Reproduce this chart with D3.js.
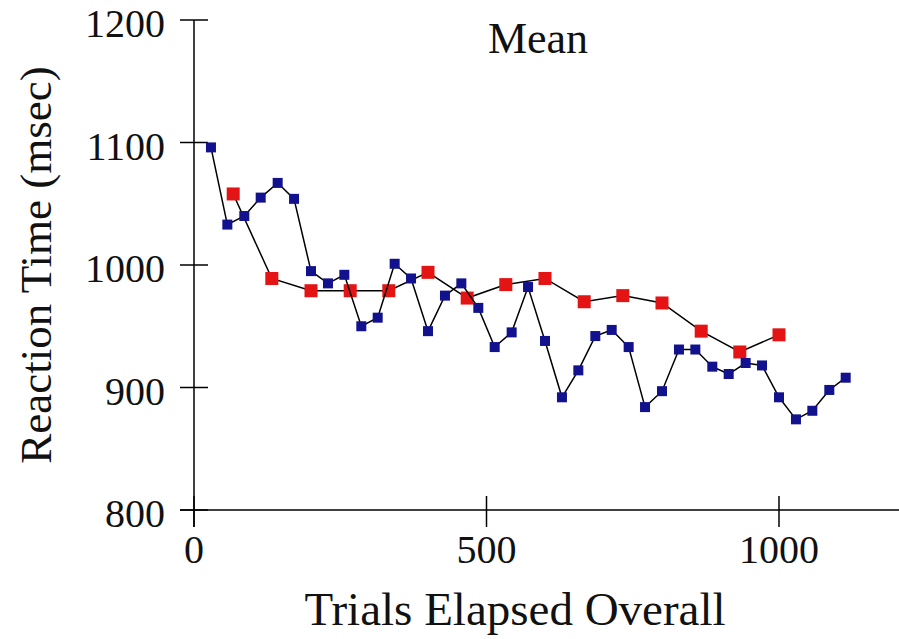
<!DOCTYPE html>
<html>
<head>
<meta charset="utf-8">
<script src="https://cdn.jsdelivr.net/npm/d3@7"></script>
<style>
  body { margin: 0; background: #fff; }
  svg { display: block; }
  text { font-family: "Liberation Serif", "DejaVu Serif", serif; fill: #111; }
</style>
</head>
<body>
<svg id="chart" width="899" height="639"></svg>
<script>
// Blue series (small bins)
const blueTrials = [29, 57, 86, 114, 143, 171, 200, 229, 257, 286, 314, 343, 371, 400, 429,
    457, 486, 514, 543, 571, 600, 629, 657, 686, 714, 743, 771, 800, 829, 857,
    886, 914, 943, 971, 1000, 1029, 1057, 1086, 1114];
const blueRT = [1096, 1033, 1040, 1055, 1067, 1054, 995, 985, 992, 950, 957, 1001, 989, 946, 975,
    985, 965, 933, 945, 982, 938, 892, 914, 942, 947, 933, 884, 897, 931, 931,
    917, 911, 920, 918, 892, 874, 881, 898, 908];

// Red series (large bins)
const redTrials = [67, 133, 200, 267, 333, 400, 467, 533, 600, 667, 733, 800, 867, 933, 1000];
const redRT = [1058, 989, 979, 979, 979, 994, 973, 984, 989, 970, 975, 969, 946, 929, 943];

const xTicks = [0, 500, 1000];
const yTicks = [800, 900, 1000, 1100, 1200];

const svg = d3.select("#chart");

const x = d3.scaleLinear().domain([0, 1000]).range([194, 779]);
const y = d3.scaleLinear().domain([800, 1200]).range([510, 20]);

// axes lines
svg.append("line")
    .attr("x1", x(0)).attr("x2", x(0))
    .attr("y1", y(1200)).attr("y2", y(800) + 17)
    .attr("stroke", "#000").attr("stroke-width", 1.5);
svg.append("line")
    .attr("x1", x(0) - 14).attr("x2", 899)
    .attr("y1", y(800)).attr("y2", y(800))
    .attr("stroke", "#000").attr("stroke-width", 1.5);

// y ticks (cross the axis)
const yg = svg.append("g");
yTicks.forEach(t => {
    yg.append("line")
        .attr("x1", x(0) - 14).attr("x2", x(0) + 14)
        .attr("y1", y(t)).attr("y2", y(t))
        .attr("stroke", "#000").attr("stroke-width", 1.5);
    yg.append("text")
        .attr("x", 165).attr("y", y(t) + 17)
        .attr("text-anchor", "end")
        .style("font-size", "40px")
        .text(t);
});

// x ticks
const xg = svg.append("g");
xTicks.forEach(t => {
    xg.append("line")
        .attr("x1", x(t)).attr("x2", x(t))
        .attr("y1", y(800) - 14).attr("y2", y(800) + 17)
        .attr("stroke", "#000").attr("stroke-width", 1.5);
    xg.append("text")
        .attr("x", x(t)).attr("y", 563)
        .attr("text-anchor", "middle")
        .style("font-size", "40px")
        .text(t);
});

// titles
svg.append("text")
    .attr("x", 515).attr("y", 625)
    .attr("text-anchor", "middle")
    .style("font-size", "47px")
    .text("Trials Elapsed Overall");

svg.append("text")
    .attr("transform", "translate(51,265) rotate(-90)")
    .attr("text-anchor", "middle")
    .style("font-size", "45px")
    .text("Reaction Time (msec)");

svg.append("text")
    .attr("x", 538).attr("y", 53)
    .attr("text-anchor", "middle")
    .style("font-size", "44px")
    .text("Mean");

// series
function drawSeries(xs, ys, color, size) {
    const pts = xs.map((d, i) => ({ t: d, rt: ys[i] }));
    const line = d3.line().x(d => x(d.t)).y(d => y(d.rt));
    svg.append("path")
        .datum(pts)
        .attr("d", line)
        .attr("fill", "none")
        .attr("stroke", "#000")
        .attr("stroke-width", 1.5);
    svg.append("g")
        .selectAll("rect")
        .data(pts)
        .join("rect")
        .attr("x", d => x(d.t) - size / 2)
        .attr("y", d => y(d.rt) - size / 2)
        .attr("width", size)
        .attr("height", size)
        .attr("fill", color);
}

drawSeries(redTrials, redRT, "#e41414", 13);
drawSeries(blueTrials, blueRT, "#12128e", 10);
</script>
</body>
</html>
